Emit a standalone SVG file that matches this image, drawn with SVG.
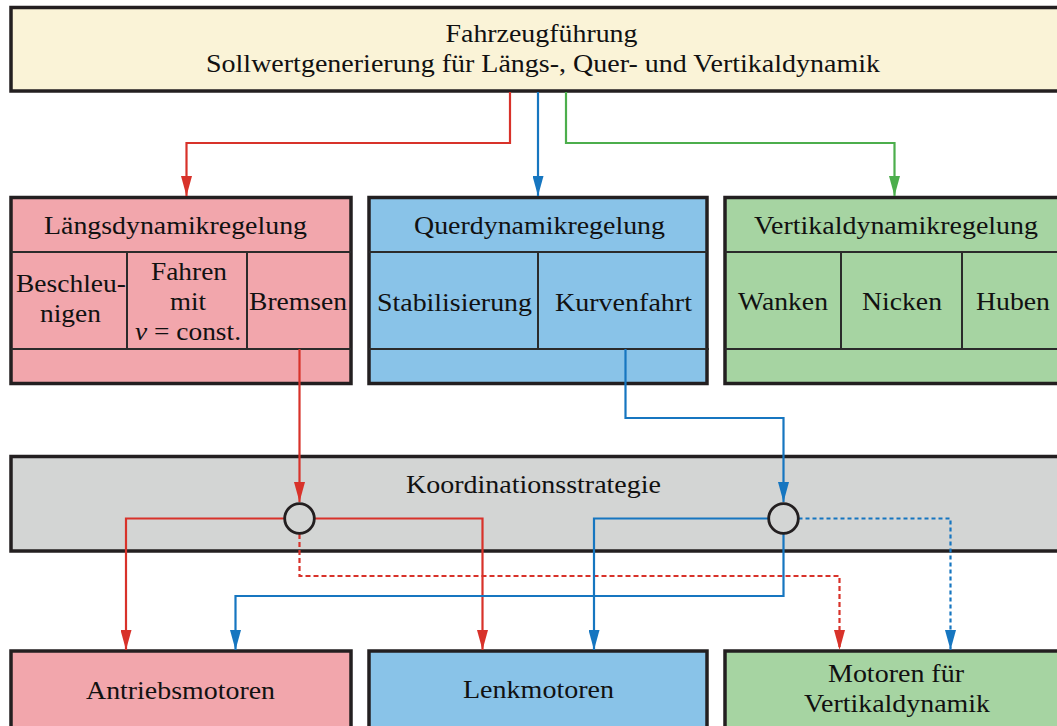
<svg xmlns="http://www.w3.org/2000/svg" width="1057" height="726" viewBox="0 0 1057 726">
  <style>
    .box { stroke: #231f20; stroke-width: 3.5; }
    .div { stroke: #2b2b2b; stroke-width: 2; fill: none; }
    .cream { fill: #faf3d7; }
    .pink { fill: #f2a6ac; }
    .sky { fill: #89c3e8; }
    .leaf { fill: #a6d4a2; }
    .grey { fill: #d3d5d4; }
    text { font-family: "Liberation Serif", "Times New Roman", serif; font-size: 26px; fill: #111; text-anchor: middle; }
    .c { fill: none; stroke-width: 2.2; }
    .r { stroke: #d8322a; }
    .b { stroke: #1676c0; }
    .g { stroke: #4cae4c; }
    .dash { stroke-dasharray: 5 3; }
    .dot { stroke-dasharray: 4 3; }
    .junction { fill: none; stroke: #231f20; stroke-width: 2.8; }
  </style>
  <defs>
    <marker id="ah-r" viewBox="0 0 20 11" refX="20" refY="5.5" markerWidth="20" markerHeight="11" markerUnits="userSpaceOnUse" orient="auto">
      <path d="M0,0 L20,5.5 L0,11 Z" fill="#d8322a"/>
    </marker>
    <marker id="ah-b" viewBox="0 0 20 11" refX="20" refY="5.5" markerWidth="20" markerHeight="11" markerUnits="userSpaceOnUse" orient="auto">
      <path d="M0,0 L20,5.5 L0,11 Z" fill="#1676c0"/>
    </marker>
    <marker id="ah-g" viewBox="0 0 20 11" refX="20" refY="5.5" markerWidth="20" markerHeight="11" markerUnits="userSpaceOnUse" orient="auto">
      <path d="M0,0 L20,5.5 L0,11 Z" fill="#4cae4c"/>
    </marker>
  </defs>

  <!-- Vehicle guidance -->
  <g id="fahrzeugfuehrung">
    <rect class="box cream" x="11" y="7.5" width="1060" height="83.5"/>
    <text x="541.5" y="42" textLength="192" lengthAdjust="spacingAndGlyphs">Fahrzeugführung</text>
    <text x="543" y="72" textLength="674" lengthAdjust="spacingAndGlyphs">Sollwertgenerierung für Längs-, Quer- und Vertikaldynamik</text>
  </g>

  <!-- Longitudinal dynamics control -->
  <g id="laengsdynamik">
    <rect class="box pink" x="11" y="197.5" width="340" height="186"/>
    <path class="div" d="M11,252 H351 M11,349 H351 M127,252 V349 M247,252 V349"/>
    <text x="175.5" y="234" textLength="263" lengthAdjust="spacingAndGlyphs">Längsdynamikregelung</text>
    <text x="71" y="292" textLength="110" lengthAdjust="spacingAndGlyphs">Beschleu-</text>
    <text x="70.5" y="322" textLength="61" lengthAdjust="spacingAndGlyphs">nigen</text>
    <text x="189" y="280" textLength="76" lengthAdjust="spacingAndGlyphs">Fahren</text>
    <text x="188" y="310" textLength="36" lengthAdjust="spacingAndGlyphs">mit</text>
    <text x="188" y="340" textLength="106" lengthAdjust="spacingAndGlyphs"><tspan font-style="italic">v</tspan> = const.</text>
    <text x="298" y="310" textLength="98" lengthAdjust="spacingAndGlyphs">Bremsen</text>
  </g>

  <!-- Lateral dynamics control -->
  <g id="querdynamik">
    <rect class="box sky" x="369" y="197.5" width="338" height="186"/>
    <path class="div" d="M369,252 H707 M369,349 H709 M538,252 V349"/>
    <text x="539.5" y="234" textLength="251" lengthAdjust="spacingAndGlyphs">Querdynamikregelung</text>
    <text x="454.5" y="311" textLength="155" lengthAdjust="spacingAndGlyphs">Stabilisierung</text>
    <text x="623.5" y="311" textLength="137" lengthAdjust="spacingAndGlyphs">Kurvenfahrt</text>
  </g>

  <!-- Vertical dynamics control -->
  <g id="vertikaldynamik">
    <rect class="box leaf" x="725" y="197.5" width="345" height="186"/>
    <path class="div" d="M725,252 H1070 M725,349 H1070 M841,252 V349 M962,252 V349"/>
    <text x="896" y="234" textLength="284" lengthAdjust="spacingAndGlyphs">Vertikaldynamikregelung</text>
    <text x="783" y="310" textLength="90" lengthAdjust="spacingAndGlyphs">Wanken</text>
    <text x="902" y="310" textLength="80" lengthAdjust="spacingAndGlyphs">Nicken</text>
    <text x="1013" y="310" textLength="74" lengthAdjust="spacingAndGlyphs">Huben</text>
  </g>

  <!-- Coordination strategy -->
  <g id="koordination">
    <rect class="box grey" x="11" y="456.5" width="1060" height="94.5"/>
    <text x="533.5" y="493" textLength="255" lengthAdjust="spacingAndGlyphs">Koordinationsstrategie</text>
  </g>

  <!-- Actuators -->
  <g id="antriebsmotoren">
    <rect class="box pink" x="11" y="651" width="340" height="90"/>
    <text x="180.5" y="699" textLength="189" lengthAdjust="spacingAndGlyphs">Antriebsmotoren</text>
  </g>
  <g id="lenkmotoren">
    <rect class="box sky" x="369" y="651" width="338" height="90"/>
    <text x="538.5" y="698" textLength="151" lengthAdjust="spacingAndGlyphs">Lenkmotoren</text>
  </g>
  <g id="vertikalmotoren">
    <rect class="box leaf" x="725" y="651" width="345" height="90"/>
    <text x="896" y="682" textLength="136" lengthAdjust="spacingAndGlyphs">Motoren für</text>
    <text x="897" y="712" textLength="186" lengthAdjust="spacingAndGlyphs">Vertikaldynamik</text>
  </g>

  <!-- Signal paths -->
  <g id="connectors">
    <path class="c r" d="M510,92 V143 H186.5 V196" marker-end="url(#ah-r)"/>
    <path class="c b" d="M538,92 V196" marker-end="url(#ah-b)"/>
    <path class="c g" d="M566,92 V143 H894.5 V196" marker-end="url(#ah-g)"/>

    <path class="c r" d="M299.5,349 V502" marker-end="url(#ah-r)"/>
    <path class="c b" d="M625.5,349 V418 H783.5 V502" marker-end="url(#ah-b)"/>

    <path class="c r" d="M284.5,518.5 H126 V650" marker-end="url(#ah-r)"/>
    <path class="c r" d="M314.5,518.5 H482.5 V650" marker-end="url(#ah-r)"/>
    <path class="c r dash" d="M299.5,534 V576 H839.5 V650" marker-end="url(#ah-r)"/>

    <path class="c b" d="M768.5,518.5 H594 V650" marker-end="url(#ah-b)"/>
    <path class="c b" d="M783.5,534 V596 H235.5 V650" marker-end="url(#ah-b)"/>
    <path class="c b dot" d="M798.5,518.5 H950.5 V650" marker-end="url(#ah-b)"/>

    <circle class="junction" cx="299.5" cy="518.5" r="14.8"/>
    <circle class="junction" cx="783.5" cy="518.5" r="14.8"/>
  </g>
</svg>
